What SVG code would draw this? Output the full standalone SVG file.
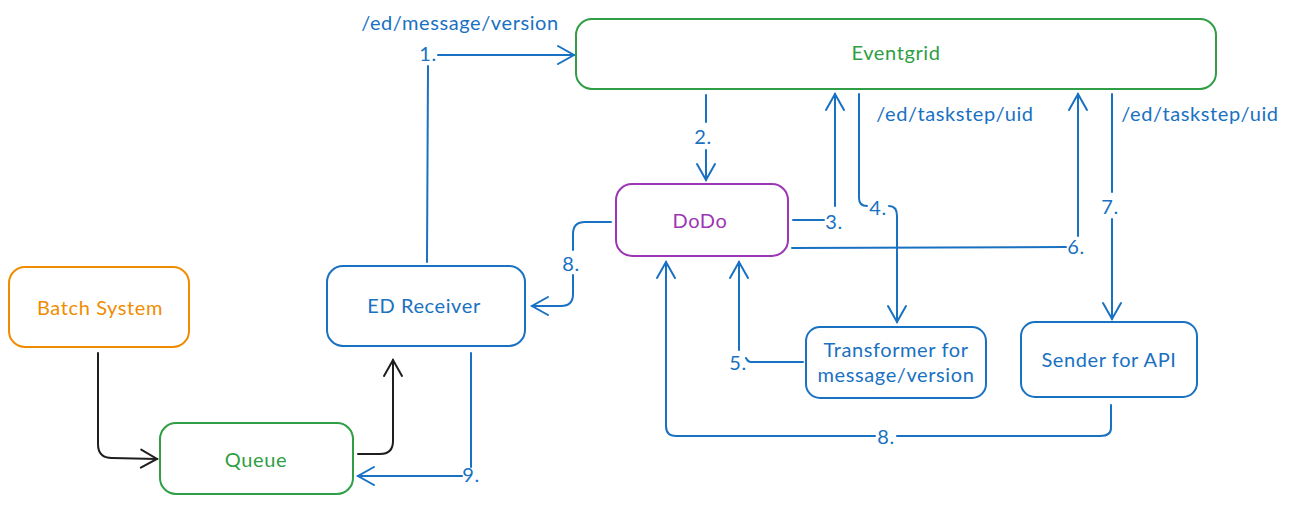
<svg xmlns="http://www.w3.org/2000/svg" width="1304" height="505" viewBox="0 0 1304 505">
<style>
.box{fill:#fff;stroke-width:2}
.g{stroke:#2f9e44}.p{stroke:#9c36b5}.o{stroke:#f08c00}.b{stroke:#1971c2}
.t{font-family:"Lato","Liberation Sans",sans-serif;font-size:20px;letter-spacing:0.6px;text-anchor:middle;dominant-baseline:central}
.tg{fill:#2f9e44}.tp{fill:#9c36b5}.to{fill:#f08c00}.tb{fill:#1971c2}
.c{fill:none;stroke:#1971c2;stroke-width:2;stroke-linecap:round;stroke-linejoin:round}
.k{fill:none;stroke:#1e1e1e;stroke-width:2;stroke-linecap:round;stroke-linejoin:round}
</style>
<defs>
<marker id="ab" markerUnits="userSpaceOnUse" markerWidth="24" markerHeight="24" refX="20" refY="12" orient="auto" viewBox="0 0 24 24">
<path d="M4,3 L20,12 L4,21" fill="none" stroke="#1971c2" stroke-width="2" stroke-linecap="round"/>
</marker>
<marker id="ak" markerUnits="userSpaceOnUse" markerWidth="24" markerHeight="24" refX="20" refY="12" orient="auto" viewBox="0 0 24 24">
<path d="M4,3 L20,12 L4,21" fill="none" stroke="#1e1e1e" stroke-width="2" stroke-linecap="round"/>
</marker>
</defs>
<g id="connectors">
<path class="c" d="M427,262 L428,66"/>
<path class="c" d="M438,55 L574,55" marker-end="url(#ab)"/>
<path class="c" d="M706,95 L706,122"/>
<path class="c" d="M706,150 L706,180" marker-end="url(#ab)"/>
<path class="c" d="M793,220 L824,220"/>
<path class="c" d="M835,206 L835,94" marker-end="url(#ab)"/>
<path class="c" d="M859,94 L859,198 Q859,206 867,206"/>
<path class="c" d="M889,206 Q897,206 897,216 L897,322" marker-end="url(#ab)"/>
<path class="c" d="M792,248 L1066,247"/>
<path class="c" d="M1078,236 L1078,94" marker-end="url(#ab)"/>
<path class="c" d="M1112,94 L1112,192"/>
<path class="c" d="M1112,219 L1112,319" marker-end="url(#ab)"/>
<path class="c" d="M803,362 L751,362 Q748,362 746,358"/>
<path class="c" d="M739,350 L739,262" marker-end="url(#ab)"/>
<path class="c" d="M611,222 L585,222 Q573,222 573,234 L573,250"/>
<path class="c" d="M573,275 L573,294 Q573,306 561,306 L532,306" marker-end="url(#ab)"/>
<path class="c" d="M1111,405 L1111,428 Q1111,436 1100,436 L897,436"/>
<path class="c" d="M875,436 L676,436 Q666,436 666,426 L666,262" marker-end="url(#ab)"/>
<path class="c" d="M471,353 L471,467"/>
<path class="c" d="M462,476 L358,476" marker-end="url(#ab)"/>
<path class="k" d="M98,353 L98,444 Q98,458 112,458 L157,459" marker-end="url(#ak)"/>
<path class="k" d="M358,454 L380,454 Q393,454 393,441 L393,360" marker-end="url(#ak)"/>
<text class="t tb" x="428" y="53">1.</text>
<text class="t tb" x="703" y="136">2.</text>
<text class="t tb" x="834" y="221">3.</text>
<text class="t tb" x="878" y="207">4.</text>
<text class="t tb" x="738" y="362">5.</text>
<text class="t tb" x="1076" y="246">6.</text>
<text class="t tb" x="1110" y="206">7.</text>
<text class="t tb" x="571" y="263">8.</text>
<text class="t tb" x="886" y="436">8.</text>
<text class="t tb" x="471" y="474">9.</text>
<text class="t tb" x="460" y="22">/ed/message/version</text>
<text class="t tb" x="955" y="113">/ed/taskstep/uid</text>
<text class="t tb" x="1200" y="113">/ed/taskstep/uid</text>
</g>
<g id="eventgrid">
<rect class="box g" x="576" y="19" width="640" height="70" rx="16"/>
<text class="t tg" x="896" y="52">Eventgrid</text>
</g>
<g id="dodo">
<rect class="box p" x="616" y="184" width="172" height="72" rx="16"/>
<text class="t tp" x="700" y="220">DoDo</text>
</g>
<g id="batch">
<rect class="box o" x="9" y="267" width="180" height="80" rx="16"/>
<text class="t to" x="100" y="307">Batch System</text>
</g>
<g id="edreceiver">
<rect class="box b" x="327" y="266" width="198" height="80" rx="16"/>
<text class="t tb" x="424" y="305">ED Receiver</text>
</g>
<g id="queue">
<rect class="box g" x="160" y="423" width="193" height="71" rx="16"/>
<text class="t tg" x="256" y="459">Queue</text>
</g>
<g id="transformer">
<rect class="box b" x="806" y="327" width="180" height="71" rx="14"/>
<text class="t tb" x="896" y="349">Transformer for</text>
<text class="t tb" x="896" y="374">message/version</text>
</g>
<g id="sender">
<rect class="box b" x="1021" y="322" width="176" height="75" rx="14"/>
<text class="t tb" x="1109" y="359">Sender for API</text>
</g>
</svg>
